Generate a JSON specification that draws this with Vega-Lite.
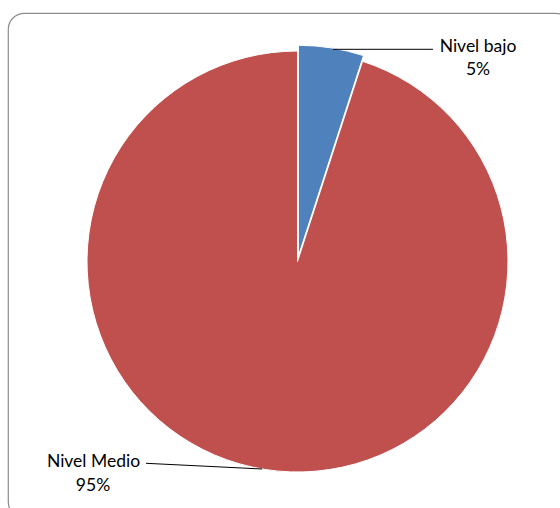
{
  "$schema": "https://vega.github.io/schema/vega-lite/v6.json",
  "width": 563,
  "height": 505,
  "autosize": {"type": "none"},
  "padding": {"left": 8, "top": 13, "right": 0, "bottom": 0},
  "background": "white",
  "config": {
    "view": {"stroke": "#8c8c8c", "strokeWidth": 1.2, "cornerRadius": 16},
    "text": {"font": "Lato", "fontSize": 17.5, "color": "#000000"}
  },
  "data": {"values": [
    {"categoria": "Nivel bajo", "porcentaje": 0.05},
    {"categoria": "Nivel Medio", "porcentaje": 0.95}
  ]},
  "layer": [
    {
      "mark": {"type": "arc", "outerRadius": 210.5, "stroke": "white", "strokeWidth": 1},
      "encoding": {
        "x": {"datum": 0, "type": "quantitative", "scale": {"domain": [-1.37204, 1.29621], "nice": false, "zero": false}, "axis": null},
        "y": {"datum": 0, "type": "quantitative", "scale": {"domain": [-1.21564, 1.17773], "nice": false, "zero": false}, "axis": null},
        "theta": {"field": "porcentaje", "type": "quantitative", "stack": true},
        "order": {"field": "porcentaje", "sort": "ascending"},
        "color": {"field": "categoria", "type": "nominal", "scale": {"domain": ["Nivel bajo", "Nivel Medio"], "range": ["#4F81BD", "#C0504D"]}, "legend": null},
        "opacity": {"condition": {"test": "datum.categoria === 'Nivel Medio'", "value": 1}, "value": 0}
      }
    },
    {
      "mark": {"type": "arc", "outerRadius": 210.5, "stroke": "white", "strokeWidth": 1},
      "encoding": {
        "x": {"datum": 0.0045, "type": "quantitative", "scale": {"domain": [-1.37204, 1.29621], "nice": false, "zero": false}, "axis": null},
        "y": {"datum": 0.027, "type": "quantitative", "scale": {"domain": [-1.21564, 1.17773], "nice": false, "zero": false}, "axis": null},
        "theta": {"field": "porcentaje", "type": "quantitative", "stack": true},
        "order": {"field": "porcentaje", "sort": "ascending"},
        "color": {"field": "categoria", "type": "nominal", "scale": {"domain": ["Nivel bajo", "Nivel Medio"], "range": ["#4F81BD", "#C0504D"]}, "legend": null},
        "opacity": {"condition": {"test": "datum.categoria === 'Nivel bajo'", "value": 1}, "value": 0}
      }
    },
    {
      "transform": [{"filter": "datum.categoria === 'Nivel bajo'"}],
      "mark": {"type": "rule", "color": "#000000", "strokeWidth": 1},
      "encoding": {
        "x": {"datum": 0.168, "type": "quantitative", "scale": {"domain": [-1.37204, 1.29621], "nice": false, "zero": false}, "axis": null},
        "x2": {"datum": 0.642},
        "y": {"datum": 1.0057, "type": "quantitative", "scale": {"domain": [-1.21564, 1.17773], "nice": false, "zero": false}, "axis": null}
      }
    },
    {
      "transform": [{"filter": "datum.categoria === 'Nivel Medio'"}],
      "mark": {"type": "rule", "color": "#000000", "strokeWidth": 1},
      "encoding": {
        "x": {"datum": -0.168, "type": "quantitative", "scale": {"domain": [-1.37204, 1.29621], "nice": false, "zero": false}, "axis": null},
        "x2": {"datum": -0.718},
        "y": {"datum": -0.9834, "type": "quantitative", "scale": {"domain": [-1.21564, 1.17773], "nice": false, "zero": false}, "axis": null},
        "y2": {"datum": -0.9564}
      }
    },
    {
      "transform": [{"filter": "datum.categoria === 'Nivel bajo'"}],
      "mark": {"type": "text", "align": "center", "baseline": "alphabetic"},
      "encoding": {
        "x": {"datum": 0.8555, "type": "quantitative", "scale": {"domain": [-1.37204, 1.29621], "nice": false, "zero": false}, "axis": null},
        "y": {"datum": 0.9929, "type": "quantitative", "scale": {"domain": [-1.21564, 1.17773], "nice": false, "zero": false}, "axis": null},
        "text": {"field": "categoria", "type": "nominal"}
      }
    },
    {
      "transform": [{"filter": "datum.categoria === 'Nivel bajo'"}],
      "mark": {"type": "text", "align": "center", "baseline": "alphabetic"},
      "encoding": {
        "x": {"datum": 0.8555, "type": "quantitative", "scale": {"domain": [-1.37204, 1.29621], "nice": false, "zero": false}, "axis": null},
        "y": {"datum": 0.8839, "type": "quantitative", "scale": {"domain": [-1.21564, 1.17773], "nice": false, "zero": false}, "axis": null},
        "text": {"field": "porcentaje", "type": "quantitative", "format": ".0%"}
      }
    },
    {
      "transform": [{"filter": "datum.categoria === 'Nivel Medio'"}],
      "mark": {"type": "text", "align": "center", "baseline": "alphabetic"},
      "encoding": {
        "x": {"datum": -0.9668, "type": "quantitative", "scale": {"domain": [-1.37204, 1.29621], "nice": false, "zero": false}, "axis": null},
        "y": {"datum": -0.9725, "type": "quantitative", "scale": {"domain": [-1.21564, 1.17773], "nice": false, "zero": false}, "axis": null},
        "text": {"field": "categoria", "type": "nominal"}
      }
    },
    {
      "transform": [{"filter": "datum.categoria === 'Nivel Medio'"}],
      "mark": {"type": "text", "align": "center", "baseline": "alphabetic"},
      "encoding": {
        "x": {"datum": -0.9692, "type": "quantitative", "scale": {"domain": [-1.37204, 1.29621], "nice": false, "zero": false}, "axis": null},
        "y": {"datum": -1.0863, "type": "quantitative", "scale": {"domain": [-1.21564, 1.17773], "nice": false, "zero": false}, "axis": null},
        "text": {"field": "porcentaje", "type": "quantitative", "format": ".0%"}
      }
    }
  ]
}
